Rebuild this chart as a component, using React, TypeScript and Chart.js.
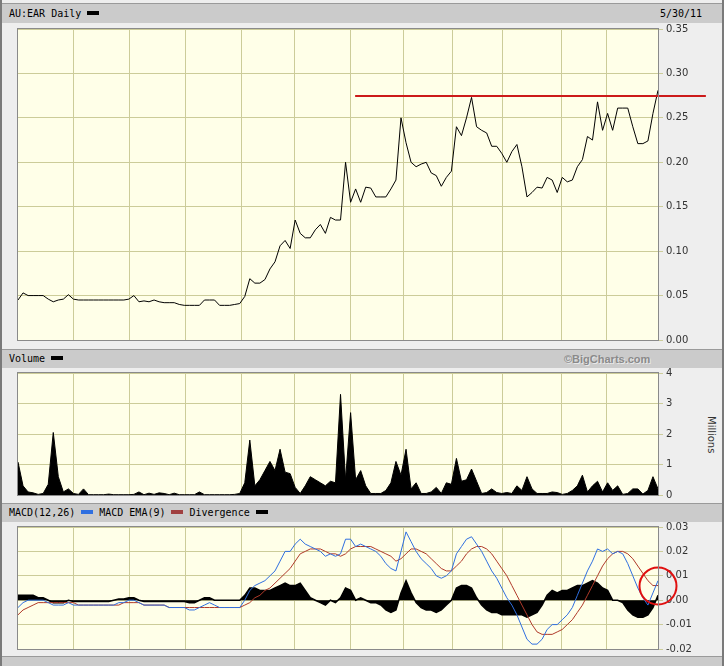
import React, { useEffect, useRef } from "react";
import { Chart, registerables } from "chart.js";
Chart.register(...registerables);

// ---- data (one point per ~2 trading days, Jun 2010 – May 2011) ----
const price = [
  0.045, 0.053, 0.05, 0.05, 0.05, 0.05, 0.046, 0.043, 0.045, 0.046,
  0.051, 0.046, 0.045, 0.045, 0.045, 0.045, 0.045, 0.045, 0.045, 0.045,
  0.045, 0.045, 0.046, 0.05, 0.043, 0.044, 0.043, 0.045, 0.043, 0.042,
  0.042, 0.042, 0.04, 0.039, 0.039, 0.039, 0.039, 0.045, 0.045, 0.045,
  0.039, 0.039, 0.039, 0.04, 0.041, 0.049, 0.069, 0.064, 0.064, 0.068,
  0.08, 0.088, 0.106, 0.112, 0.103, 0.135, 0.12, 0.115, 0.115, 0.124,
  0.13, 0.12, 0.138, 0.135, 0.135, 0.2, 0.155, 0.17, 0.155, 0.172,
  0.171, 0.161, 0.161, 0.161, 0.17, 0.18, 0.25, 0.222, 0.2, 0.195,
  0.198, 0.2, 0.188, 0.185, 0.173, 0.183, 0.19, 0.24, 0.23, 0.25,
  0.273, 0.24, 0.236, 0.233, 0.218, 0.218, 0.21, 0.2, 0.212, 0.22,
  0.195, 0.161, 0.166, 0.172, 0.171, 0.183, 0.18, 0.166, 0.183, 0.178,
  0.18, 0.195, 0.203, 0.229, 0.225, 0.268, 0.236, 0.255, 0.236, 0.261,
  0.261, 0.261, 0.24, 0.221, 0.221, 0.224, 0.255, 0.281,
];

const volume = [
  1.08, 0.3, 0.1, 0.07, 0.02, 0.05, 0.35, 2.05, 0.6, 0.1,
  0.2, 0.05, 0.02, 0.2, 0.01, 0.01, 0.01, 0.01, 0.03, 0.01,
  0.01, 0.01, 0.01, 0.02, 0.1, 0.01, 0.06, 0.02, 0.07, 0.05,
  0.01, 0.06, 0.01, 0.01, 0.01, 0.01, 0.1, 0.01, 0.01, 0.01,
  0.01, 0.01, 0.01, 0.02, 0.05, 0.4, 1.8, 0.3, 0.5, 0.8,
  1.1, 0.8, 1.5, 0.75, 0.7, 0.25, 0.05, 0.3, 0.6, 0.5,
  0.4, 0.3, 0.45, 0.4, 3.3, 0.5, 2.7, 0.5, 0.8, 0.3,
  0.05, 0.05, 0.05, 0.15, 0.4, 1.1, 0.65, 1.5, 0.2, 0.4,
  0.05, 0.05, 0.1, 0.25, 0.05, 0.4, 0.35, 1.2, 0.45, 0.5,
  0.85, 0.45, 0.05, 0.08, 0.2, 0.08, 0.05, 0.08, 0.05, 0.3,
  0.15, 0.6, 0.2, 0.05, 0.05, 0.05, 0.1, 0.08, 0.02, 0.05,
  0.15, 0.3, 0.65, 0.1, 0.3, 0.45, 0.1, 0.4, 0.15, 0.3,
  0.02, 0.05, 0.2, 0.2, 0.03, 0.15, 0.6, 0.2,
];

const macd = [
  -0.003, -0.001, 0, 0, 0, 0, -0.001, -0.002, -0.002, -0.002,
  -0.001, -0.002, -0.002, -0.002, -0.002, -0.002, -0.002, -0.002, -0.002, -0.002,
  -0.001, -0.001, 0, 0, -0.001, -0.002, -0.002, -0.002, -0.002, -0.002,
  -0.003, -0.003, -0.003, -0.003, -0.004, -0.004, -0.003, -0.002, -0.001, -0.002,
  -0.003, -0.003, -0.003, -0.003, -0.003, 0, 0.004, 0.006, 0.007, 0.008,
  0.01, 0.012, 0.016, 0.02, 0.02, 0.023, 0.025, 0.023, 0.022, 0.021,
  0.02, 0.018, 0.019, 0.018, 0.019, 0.025, 0.025, 0.022, 0.023, 0.022,
  0.021, 0.02, 0.018, 0.015, 0.013, 0.012, 0.02, 0.028, 0.024, 0.02,
  0.017, 0.015, 0.013, 0.01, 0.009, 0.01, 0.012, 0.019, 0.022, 0.025,
  0.026, 0.023, 0.02, 0.016, 0.012, 0.009, 0.005, 0.001, -0.002, -0.006,
  -0.011, -0.016, -0.018, -0.018, -0.016, -0.012, -0.01, -0.01, -0.008, -0.006,
  -0.003, 0.002, 0.007, 0.012, 0.016, 0.021, 0.02, 0.021, 0.019, 0.02,
  0.019, 0.015, 0.01, 0.005, 0.001, -0.002, 0.003, 0.008,
];

const macdEma = [
  -0.006, -0.004, -0.003, -0.002, -0.001, -0.001, -0.001, -0.001, -0.001, -0.001,
  -0.001, -0.001, -0.002, -0.002, -0.002, -0.002, -0.002, -0.002, -0.002, -0.002,
  -0.002, -0.001, -0.001, -0.001, -0.001, -0.002, -0.002, -0.002, -0.002, -0.002,
  -0.003, -0.003, -0.003, -0.003, -0.003, -0.003, -0.003, -0.003, -0.003, -0.003,
  -0.003, -0.003, -0.003, -0.003, -0.003, -0.002, -0.001, 0.001, 0.002, 0.004,
  0.005, 0.007, 0.009, 0.011, 0.013, 0.016, 0.019, 0.02, 0.021, 0.021,
  0.021, 0.02, 0.019, 0.019, 0.018, 0.019, 0.021, 0.022, 0.022, 0.022,
  0.022, 0.021, 0.02, 0.019, 0.018, 0.016, 0.017, 0.019, 0.021, 0.021,
  0.02, 0.019, 0.017, 0.015, 0.013, 0.012, 0.012, 0.014, 0.016, 0.019,
  0.021, 0.022, 0.022, 0.021, 0.019, 0.016, 0.013, 0.01, 0.006, 0.002,
  -0.002, -0.006, -0.01, -0.013, -0.014, -0.014, -0.014, -0.013, -0.012, -0.01,
  -0.008, -0.005, -0.002, 0.002, 0.006, 0.01, 0.014, 0.017, 0.019, 0.02,
  0.02, 0.019, 0.017, 0.014, 0.011, 0.008, 0.006, 0.006,
];

const divergence = [
  0.002, 0.002, 0.002, 0.002, 0.001, 0.001, 0, -0.001, -0.001, -0.001,
  0, -0.0005, -0.0005, -0.0005, -0.0005, -0.0005, -0.0005, -0.0005, -0.0005, 0,
  0.0005, 0.0005, 0.001, 0.001, 0, -0.0005, -0.0005, -0.0005, -0.0005, -0.0005,
  -0.0005, -0.0005, -0.0005, -0.0005, -0.001, -0.001, 0, 0.001, 0.001, 0,
  0, 0, 0, 0, 0, 0.002, 0.005, 0.005, 0.004, 0.004,
  0.004, 0.005, 0.006, 0.007, 0.006, 0.006, 0.007, 0.004, 0.001, 0,
  -0.001, -0.002, 0, -0.001, 0.001, 0.005, 0.004, 0, 0.001, 0,
  -0.001, -0.001, -0.002, -0.004, -0.005, -0.004, 0.003, 0.008, 0.003, -0.001,
  -0.003, -0.004, -0.004, -0.005, -0.004, -0.002, 0, 0.005, 0.006, 0.006,
  0.005, 0.001, -0.002, -0.004, -0.005, -0.005, -0.006, -0.006, -0.006, -0.006,
  -0.006, -0.007, -0.006, -0.005, -0.002, 0.002, 0.004, 0.003, 0.004, 0.004,
  0.005, 0.006, 0.006, 0.007, 0.008, 0.007, 0.005, 0.004, 0, 0,
  -0.001, -0.004, -0.006, -0.007, -0.007, -0.006, -0.003, 0.002,
];

// month boundaries expressed as point index (vertical grid lines)
const monthStarts = [11.1, 22.1, 33.3, 44.4, 54.8, 66.0, 76.5, 86.3, 96.1, 107.9, 116.8];

const priceAxis = { min: 0, max: 0.35, step: 0.05 };
const volumeAxis = { min: 0, max: 4, step: 1 };
const macdAxis = { min: -0.02, max: 0.03, step: 0.01 };

const resistanceLevel = 0.2745;
const resistanceFrom = 66.9;
const resistanceTo = 136.5;
const circleIndex = 127;
const circleValue = 0.0058;

const headerTitle = "AU:EAR Daily";
const headerDate = "5/30/11";

// ---- styles ----
const GRID = "#cccc99";
const PLOT_BG = "#ffffe8";
const FRAME_BG = "#eeeeee";
const BAR_BG = "#cbcbcb";
const N = price.length;

const toXY = (arr: number[]) => arr.map((v, i) => ({ x: i, y: v }));

const plotBg = {
  id: "plotBg",
  beforeDraw(chart: any) {
    const { ctx, chartArea: a } = chart;
    ctx.save();
    ctx.fillStyle = PLOT_BG;
    ctx.fillRect(a.left, a.top, a.right - a.left, a.bottom - a.top);
    ctx.restore();
  },
  afterDraw(chart: any) {
    const { ctx, chartArea: a } = chart;
    ctx.save();
    ctx.strokeStyle = "#8a8a8a";
    ctx.lineWidth = 1;
    ctx.strokeRect(Math.round(a.left) - 0.5, Math.round(a.top) - 0.5, Math.round(a.right - a.left) + 1, Math.round(a.bottom - a.top) + 1);
    ctx.restore();
  },
};

const fmt2 = (v: any) => (Math.abs(v) < 1e-9 ? "0.00" : Number(v).toFixed(2));

function makeOptions(axis: { min: number; max: number; step: number }, fmt: (v: any) => string) {
  return {
    animation: false,
    responsive: false,
    maintainAspectRatio: false,
    layout: { padding: { left: 18, right: 0, top: 10, bottom: 10 } },
    plugins: { legend: { display: false }, tooltip: { enabled: false } },
    elements: { point: { radius: 0 }, line: { tension: 0 } },
    scales: {
      x: {
        type: "linear",
        min: 0,
        max: N - 1,
        afterBuildTicks: (s: any) => {
          s.ticks = monthStarts.map((v) => ({ value: v }));
        },
        ticks: { display: false },
        grid: { color: GRID, drawTicks: false, lineWidth: 1 },
        border: { display: false },
      },
      y: {
        position: "right",
        min: axis.min,
        max: axis.max,
        afterFit: (s: any) => {
          s.width = 68;
        },
        ticks: {
          stepSize: axis.step,
          callback: fmt,
          color: "#333",
          font: { family: "DejaVu Sans", size: 10 },
          padding: 3,
        },
        grid: { color: GRID, tickLength: 5 },
        border: { display: false },
      },
    },
  } as any;
}

function useChart(ref: React.RefObject<HTMLCanvasElement>, build: () => any) {
  useEffect(() => {
    if (!ref.current) return;
    const chart = new Chart(ref.current, build());
    return () => chart.destroy();
  }, []);
}

const barStyle = (top: number, height: number): React.CSSProperties => ({
  position: "absolute",
  left: 2,
  top,
  width: 720,
  height,
  background: BAR_BG,
  borderTop: "1px solid #9a9a9a",
  boxSizing: "border-box",
  fontFamily: "'DejaVu Sans Mono', monospace",
  fontSize: 10,
  color: "#000",
  lineHeight: `${height - 1}px`,
  whiteSpace: "nowrap",
});

const Swatch = ({ color }: { color: string }) => (
  <span
    style={{
      display: "inline-block",
      width: 12,
      height: 4,
      background: color,
      verticalAlign: "middle",
      margin: "0 6px 0 6px",
      position: "relative",
      top: -1,
    }}
  />
);

export default function App() {
  const priceRef = useRef<HTMLCanvasElement>(null);
  const volRef = useRef<HTMLCanvasElement>(null);
  const macdRef = useRef<HTMLCanvasElement>(null);

  useChart(priceRef, () => ({
    type: "line",
    data: {
      datasets: [
        {
          data: [
            { x: resistanceFrom, y: resistanceLevel },
            { x: resistanceTo, y: resistanceLevel },
          ],
          borderColor: "#cc1a1a",
          borderWidth: 2,
          clip: false,
        },
        { data: toXY(price), borderColor: "#000", borderWidth: 1 },
      ],
    },
    options: makeOptions(priceAxis, fmt2),
    plugins: [plotBg],
  }));

  useChart(volRef, () => ({
    type: "line",
    data: {
      datasets: [
        {
          data: toXY(volume),
          borderColor: "#000",
          backgroundColor: "#000",
          borderWidth: 1,
          fill: "origin",
        },
      ],
    },
    options: makeOptions(volumeAxis, (v: any) => String(Math.round(v))),
    plugins: [plotBg],
  }));

  const circle = {
    id: "circle",
    afterDatasetsDraw(chart: any) {
      const { ctx, scales } = chart;
      const cx = scales.x.getPixelForValue(circleIndex);
      const cy = scales.y.getPixelForValue(circleValue);
      ctx.save();
      ctx.strokeStyle = "#e01010";
      ctx.lineWidth = 2;
      ctx.beginPath();
      ctx.arc(cx, cy, 18.5, 0, Math.PI * 2);
      ctx.stroke();
      ctx.restore();
    },
  };

  useChart(macdRef, () => ({
    type: "line",
    data: {
      datasets: [
        { data: toXY(macd), borderColor: "#2f6fe0", borderWidth: 1 },
        { data: toXY(macdEma), borderColor: "#b03a2a", borderWidth: 1 },
        {
          data: toXY(divergence),
          borderColor: "#000",
          backgroundColor: "#000",
          borderWidth: 1.5,
          fill: "origin",
        },
      ],
    },
    options: makeOptions(macdAxis, fmt2),
    plugins: [plotBg, circle],
  }));

  return (
    <div
      style={{
        position: "fixed",
        left: 0,
        top: 0,
        width: 726,
        height: 666,
        overflow: "hidden",
        background: "#fff",
      }}
    >
      <div
        style={{
          position: "absolute",
          left: 0,
          top: 0,
          width: 724,
          height: 666,
          background: FRAME_BG,
          borderLeft: "2px solid #7a7a7a",
          borderRight: "2px solid #7a7a7a",
          boxSizing: "border-box",
        }}
      />
      <div style={barStyle(3, 20)}>
        <span style={{ marginLeft: 7 }}>{headerTitle}</span>
        <Swatch color="#000" />
        <span style={{ position: "absolute", left: 658 }}>{headerDate}</span>
      </div>
      <div style={barStyle(349, 19)}>
        <span style={{ marginLeft: 7 }}>Volume</span>
        <Swatch color="#000" />
        <span
          style={{
            position: "absolute",
            left: 562,
            fontFamily: "'Liberation Sans', Arial, sans-serif",
            fontWeight: "bold",
            fontSize: 11,
            color: "#8a8a8a",
            textShadow: "1px 1px 0 #e8e8e8",
          }}
        >
          ©BigCharts.com
        </span>
      </div>
      <div style={barStyle(503, 19)}>
        <span style={{ marginLeft: 7 }}>MACD(12,26)</span>
        <Swatch color="#2f6fe0" />
        <span>MACD EMA(9)</span>
        <Swatch color="#a04040" />
        <span>Divergence</span>
        <Swatch color="#000" />
      </div>
      <div style={{ ...barStyle(656, 12) }} />
      <div
        style={{
          position: "absolute",
          left: 704,
          top: 405,
          width: 14,
          height: 60,
          writingMode: "vertical-rl",
          fontFamily: "'DejaVu Sans', sans-serif",
          fontSize: 10,
          color: "#333",
          lineHeight: "14px",
          textAlign: "center",
        }}
      >
        Millions
      </div>
      <canvas ref={priceRef} width={726} height={331} style={{ position: "absolute", left: 0, top: 19 }} />
      <canvas ref={volRef} width={726} height={142} style={{ position: "absolute", left: 0, top: 363 }} />
      <canvas ref={macdRef} width={726} height={142} style={{ position: "absolute", left: 0, top: 517 }} />
    </div>
  );
}
